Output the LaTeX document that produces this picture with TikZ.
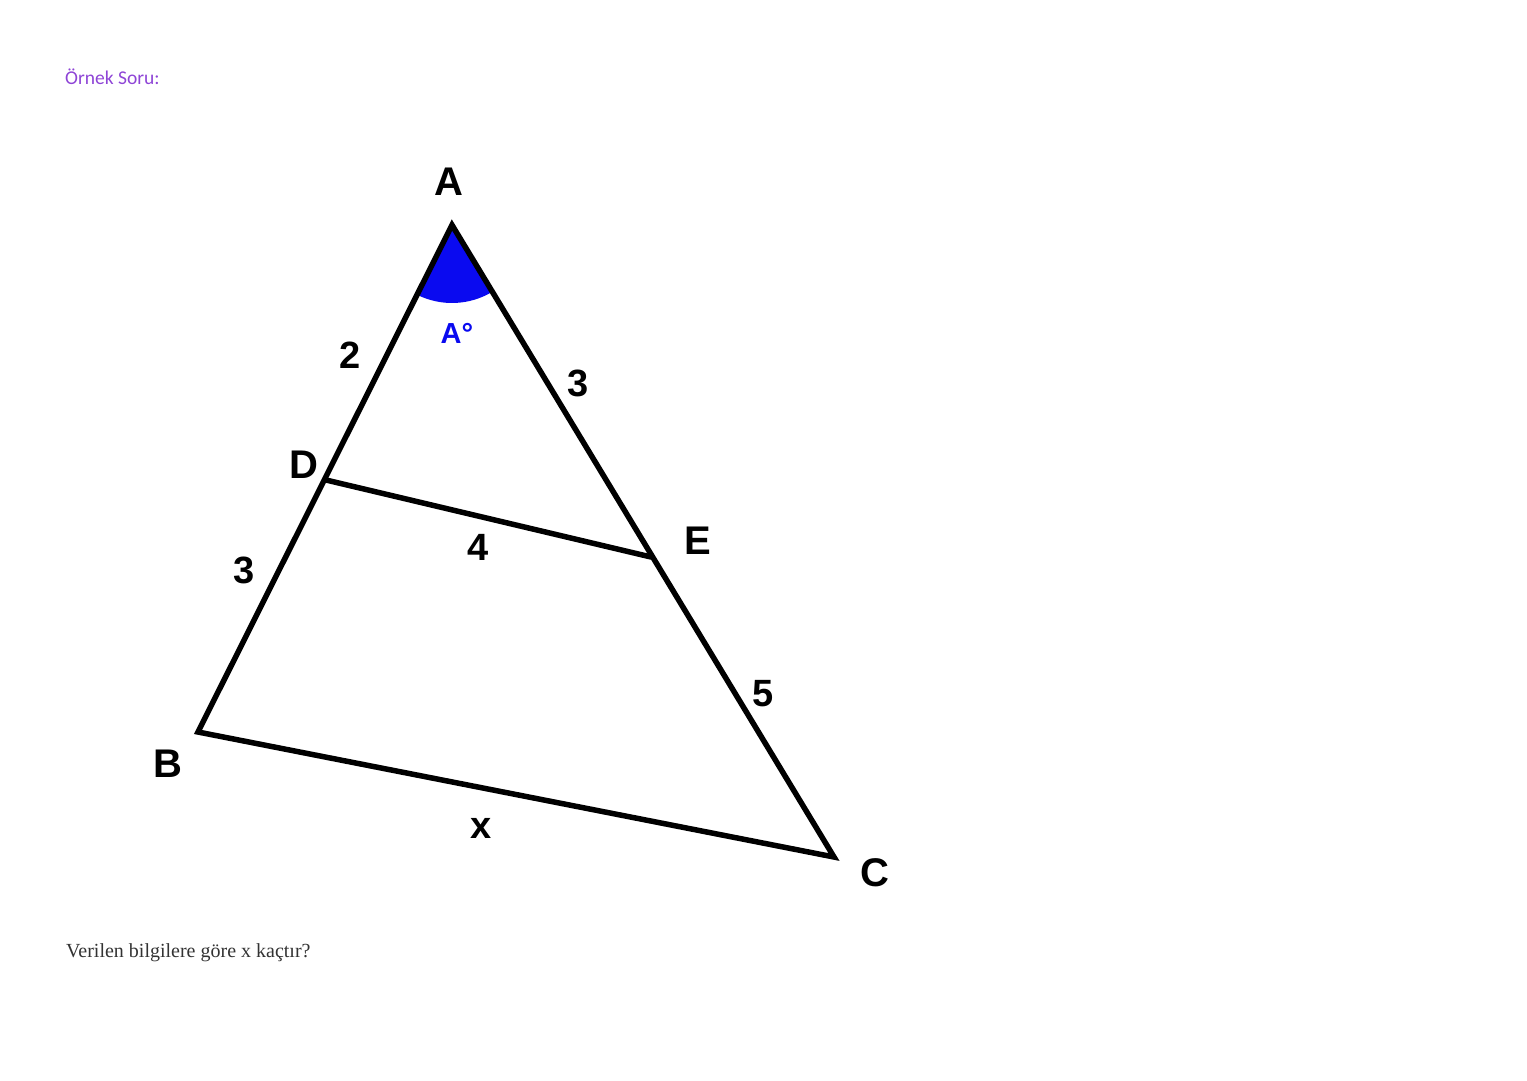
\documentclass[tikz,border=0pt]{standalone}
\usepackage{fontspec}
\setmainfont{Liberation Serif}
\setsansfont{Liberation Sans}
\newfontfamily\carlito{Carlito}
\definecolor{titlepurple}{HTML}{8E44D6}
\definecolor{anglblue}{HTML}{0A0AF0}
\definecolor{bodygray}{HTML}{333333}
\begin{document}
\begin{tikzpicture}[x=1pt,y=-1pt,
  side/.style={line width=5.5pt, line join=miter, line cap=round},
  vlabel/.style={font=\sffamily\bfseries\fontsize{40}{40}\selectfont, inner sep=0pt},
  nlabel/.style={font=\sffamily\bfseries\fontsize{38}{38}\selectfont, inner sep=0pt},
  ]
\useasboundingbox (0,0) rectangle (1527,1080);
\coordinate (A) at (452,225);
\coordinate (B) at (198,732);
\coordinate (C) at (834,857);
\coordinate (D) at (326,480);
\coordinate (E) at (651,557);
% angle sector
\fill[anglblue] (A) -- ++(116.6:78) arc[start angle=116.6, end angle=58.9, radius=78] -- cycle;
\draw[side] (A) -- (B) -- (C) -- cycle;
\draw[side] (D) -- (E);
% labels
\node[vlabel] (lA) at (449,182) {A};
\node[vlabel] (lB) at (168,764) {B};
\node[vlabel] (lC) at (875,873) {C};
\node[vlabel] (lD) at (304,465) {D};
\node[vlabel] (lE) at (698,541) {E};
\node[nlabel] (l2) at (350,355) {2};
\node[nlabel] (l3a) at (578,383) {3};
\node[nlabel] (l4) at (478,547) {4};
\node[nlabel] (l3b) at (244,570) {3};
\node[nlabel] (l5) at (763,694) {5};
\node[nlabel] (lx) at (481,828) {x};
\node[font=\sffamily\bfseries\fontsize{29}{29}\selectfont, text=anglblue, inner sep=0pt] (lang) at (457,333) {A°};
% texts
\node[font=\carlito\fontsize{19.5}{19.5}\selectfont, text=titlepurple, anchor=base west, inner sep=0pt] (title) at (65,84) {Örnek Soru:};
\node[font=\fontsize{20}{20}\selectfont, text=bodygray, anchor=base west, inner sep=0pt] (q) at (66,957) {Verilen bilgilere göre x kaçtır?};
\end{tikzpicture}
\end{document}
